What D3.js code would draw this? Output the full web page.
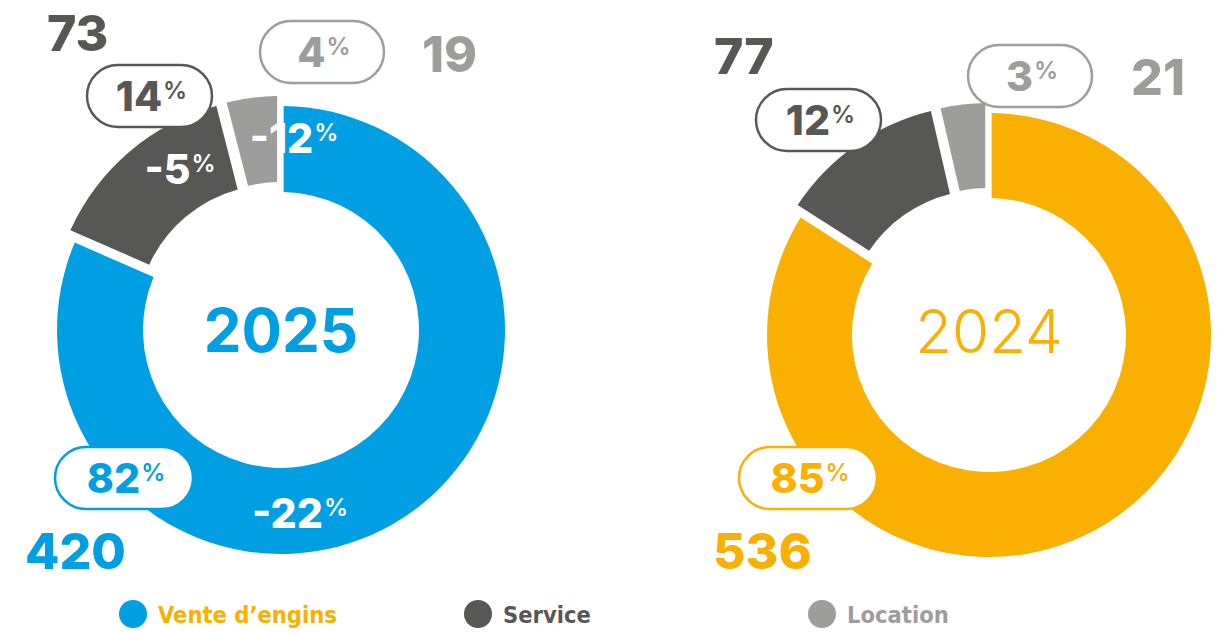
<!DOCTYPE html>
<html>
<head>
<meta charset="utf-8">
<script src="https://cdn.jsdelivr.net/npm/d3@7"></script>
<style>
  html, body { margin: 0; padding: 0; background: #fff; }
  svg { display: block; }
  .num { font-family: Inter, "Noto Sans", sans-serif; font-weight: 800; }
  .legend text { font-family: "Liberation Sans Narrow", "DejaVu Sans Condensed", sans-serif; font-weight: 700; }
</style>
</head>
<body>
<div id="chart"></div>
<script>
// data
const categories = ["Vente d’engins", "Service", "Location"];
const years = ["2025", "2024"];
const values2025 = [420, 73, 19];
const values2024 = [536, 77, 21];
const shares2025 = [82, 14, 4];
const shares2024 = [85, 12, 3];
const changes2025 = [-22, -5, -12];

const w = 1224;
const h = 633;

const colors = d3.scaleOrdinal()
    .domain(categories)
    .range(["#009fe3", "#575756", "#9d9d9c"]);
const yellow = "#f9b000";

// layout of each donut (positions only)
const donuts = [
    {
        year: years[0], values: values2025, shares: shares2025, changes: changes2025,
        main: colors(categories[0]), yearWeight: 700,
        cx: 281, cy: 330, R: 224, r: 138,
        valuePos: [[25, 569], [47, 51], [422, 72]],
        pillPos: [[55, 447], [87, 65], [260, 21]],
        changePos: [[300, 528], [180, 184], [294, 153]]
    },
    {
        year: years[1], values: values2024, shares: shares2024, changes: null,
        main: yellow, yearWeight: 300,
        cx: 989, cy: 335, R: 222, r: 137,
        valuePos: [[713, 569], [714, 74], [1131, 95]],
        pillPos: [[739, 447], [756, 89], [968, 45]],
        changePos: null
    }
];
const explode = [0, 10, 10];
const pillW = [138, 125, 124];
const pillH = 62;

const svg = d3.select("#chart")
    .append("svg")
    .attr("width", w)
    .attr("height", h);

const pie = d3.pie().sort(null).padAngle(0.02);

// text with a small raised % sign
function pctText(g, x, y, value, fill, anchor) {
    const t = g.append("text")
        .attr("class", "num")
        .attr("x", x)
        .attr("y", y)
        .attr("text-anchor", anchor)
        .attr("fill", fill)
        .style("font-size", "41px");
    t.append("tspan").text(value);
    t.append("tspan")
        .attr("dy", -12)
        .attr("dx", 1)
        .style("font-size", "24px")
        .style("font-weight", 600)
        .text("%");
    return t;
}

donuts.forEach(ds => {
    const colorOf = (d, i) => i === 0 ? ds.main : colors(categories[i]);

    const arc = d3.arc().innerRadius(ds.r).outerRadius(ds.R);
    const arcs = pie(ds.values);

    const g = svg.append("g")
        .attr("transform", `translate(${ds.cx},${ds.cy})`);

    g.selectAll("path")
        .data(arcs)
        .join("path")
        .attr("d", arc)
        .attr("fill", (d, i) => colorOf(d, i))
        .attr("transform", (d, i) => {
            const a = (d.startAngle + d.endAngle) / 2;
            return `translate(${Math.sin(a) * explode[i]},${-Math.cos(a) * explode[i]})`;
        });

    // year in the hole
    g.append("text")
        .attr("class", "num")
        .attr("text-anchor", "middle")
        .attr("y", ds.yearWeight === 700 ? 22 : 18)
        .attr("fill", ds.main)
        .style("font-size", "60px")
        .style("font-weight", ds.yearWeight)
        .text(ds.year);

    // absolute values
    ds.values.forEach((v, i) => {
        svg.append("text")
            .attr("class", "num")
            .attr("x", ds.valuePos[i][0])
            .attr("y", ds.valuePos[i][1])
            .attr("fill", colorOf(null, i))
            .style("font-size", "50px")
            .text(v);
    });

    // share pills
    ds.shares.forEach((s, i) => {
        const [px, py] = ds.pillPos[i];
        svg.append("rect")
            .attr("x", px)
            .attr("y", py)
            .attr("width", pillW[i])
            .attr("height", pillH)
            .attr("rx", pillH / 2)
            .attr("fill", "#fff")
            .attr("stroke", colorOf(null, i))
            .attr("stroke-width", 2.5);
        pctText(svg, px + pillW[i] / 2 + 2, py + 46, s, colorOf(null, i), "middle");
    });

    // change vs previous year
    if (ds.changes) {
        ds.changes.forEach((c, i) => {
            pctText(svg, ds.changePos[i][0], ds.changePos[i][1], c, "#fff", "middle");
        });
    }
});

// legend
const legendX = [133, 478, 822];
const legend = svg.append("g").attr("class", "legend");
categories.forEach((c, i) => {
    legend.append("circle")
        .attr("cx", legendX[i])
        .attr("cy", 614)
        .attr("r", 14)
        .attr("fill", colors(c));
    legend.append("text")
        .attr("x", legendX[i] + 25)
        .attr("y", 623)
        .attr("fill", i === 0 ? yellow : colors(c))
        .style("font-size", "23.5px")
        .text(c);
});
</script>
</body>
</html>
